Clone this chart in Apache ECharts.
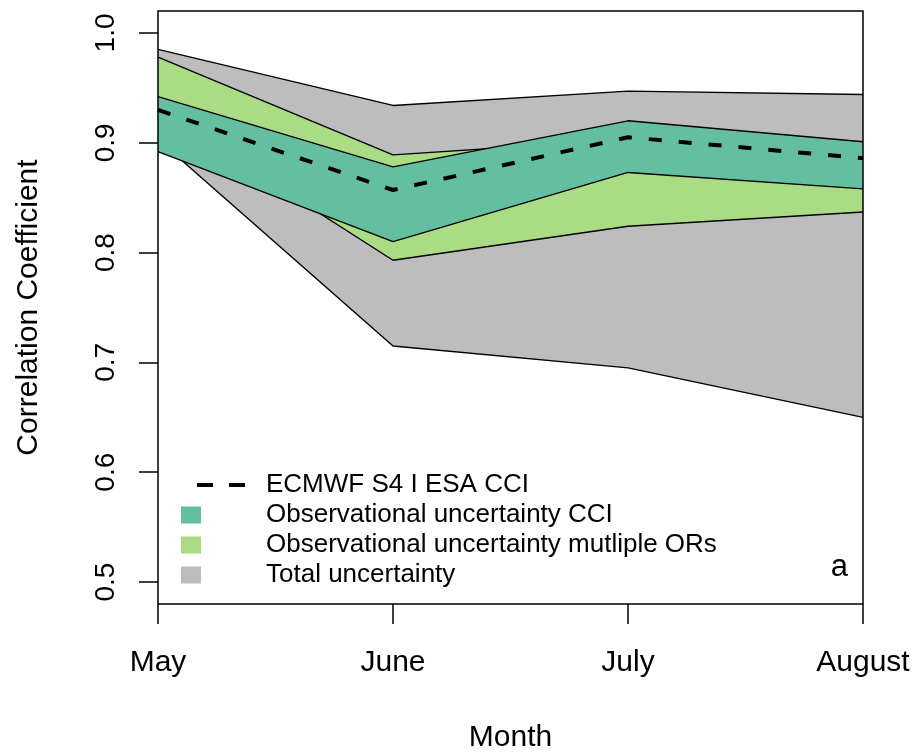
<!DOCTYPE html>
<html>
<head>
<meta charset="utf-8">
<script src="https://cdn.jsdelivr.net/npm/echarts@6/dist/echarts.min.js"></script>
<style>
html,body{margin:0;padding:0;background:#fff;}
#chart{width:915px;height:752px;}
</style>
</head>
<body>
<div id="chart"></div>
<script>
// ---- data ----
const months = ['May', 'June', 'July', 'August'];
const yTicks = [0.5, 0.6, 0.7, 0.8, 0.9, 1.0];
const ensembleCorr = [0.930, 0.857, 0.905, 0.886];      // ECMWF S4 I ESA CCI
const cciUpper = [0.942, 0.878, 0.920, 0.901];          // Observational uncertainty CCI
const cciLower = [0.892, 0.810, 0.873, 0.858];
const orsUpper = [0.978, 0.889, 0.903, 0.888];          // Observational uncertainty multiple ORs
const orsLower = [0.930, 0.793, 0.824, 0.837];
const totalUpper = [0.985, 0.934, 0.947, 0.944];        // Total uncertainty
const totalLower = [0.903, 0.715, 0.695, 0.650];

const names = {
  ens: 'ECMWF S4 I ESA CCI',
  cci: 'Observational uncertainty CCI',
  ors: 'Observational uncertainty mutliple ORs',
  total: 'Total uncertainty'
};
const colors = { cci: '#64BFA0', ors: '#A9DC84', total: '#BDBDBD' };
const FONT = '"Liberation Sans", Arial, Helvetica, sans-serif';

function bandSeries(key, upper, lower, z) {
  const width = upper.map((u, i) => +(u - lower[i]).toFixed(4));
  return [
    { name: key + '_base', type: 'line', stack: key, data: lower, symbol: 'none', silent: true, z: z,
      lineStyle: { width: 0, opacity: 0 } },
    { name: names[key], type: 'line', stack: key, data: width, symbol: 'none', silent: true, z: z,
      lineStyle: { color: '#000', width: 1.4 },
      itemStyle: { color: colors[key] },
      areaStyle: { color: colors[key], opacity: 1 } },
    { name: key + '_low', type: 'line', data: lower, symbol: 'none', silent: true, z: z,
      lineStyle: { color: '#000', width: 1.4 } }
  ];
}

const chart = echarts.init(document.getElementById('chart'), null, { renderer: 'canvas' });
chart.setOption({
  animation: false,
  backgroundColor: '#fff',
  textStyle: { fontFamily: FONT, color: '#000' },
  grid: { left: 158, top: 11, right: 52, bottom: 148, show: true, z: 10,
          containLabel: false, outerBoundsMode: 'none',
          borderColor: '#000', borderWidth: 1.5, backgroundColor: 'transparent' },
  title: { text: 'a', right: 67, top: 552, padding: 0,
           textStyle: { fontSize: 31, fontWeight: 'normal', color: '#000', fontFamily: FONT } },
  legend: [
    { data: [{ name: names.ens, icon: 'path://M0 0H16V4H0ZM32 0H48V4H32Z', itemStyle: { color: '#000' } }],
      left: 197, top: 470, padding: 0, itemWidth: 48, itemHeight: 4, selectedMode: false,
      textStyle: { fontSize: 26, lineHeight: 30, color: '#000', fontFamily: FONT, padding: [0, 0, 0, 16] } },
    { data: [
        { name: names.cci, icon: 'rect', itemStyle: { color: colors.cci, borderWidth: 0 } },
        { name: names.ors, icon: 'rect', itemStyle: { color: colors.ors, borderWidth: 0 } },
        { name: names.total, icon: 'rect', itemStyle: { color: colors.total, borderWidth: 0 } }
      ],
      orient: 'vertical', left: 181, top: 500, padding: 0, itemGap: 0,
      itemWidth: 20, itemHeight: 17, selectedMode: false,
      itemStyle: { borderWidth: 0 },
      textStyle: { fontSize: 26, lineHeight: 30, color: '#000', fontFamily: FONT, padding: [0, 0, 0, 60] } }
  ],
  xAxis: {
    type: 'category', data: months, boundaryGap: false,
    name: 'Month', nameLocation: 'middle', nameGap: 119,
    nameTextStyle: { fontSize: 30, color: '#000', fontFamily: FONT },
    axisLine: { show: false },
    axisTick: { show: true, inside: false, length: 20, lineStyle: { color: '#000', width: 1.5 } },
    axisLabel: { fontSize: 30, color: '#000', margin: 44, interval: 0, fontFamily: FONT,
                 showMinLabel: true, showMaxLabel: true },
    splitLine: { show: false }
  },
  yAxis: {
    type: 'value', min: 0.48, max: 1.02,
    name: 'Correlation Coefficient', nameLocation: 'middle', nameGap: 114, nameRotate: 90,
    nameTextStyle: { fontSize: 30, color: '#000', fontFamily: FONT },
    axisLine: { show: false },
    axisTick: { show: true, length: 19, customValues: yTicks, lineStyle: { color: '#000', width: 1.5 } },
    axisLabel: { fontSize: 28, color: '#000', rotate: 90, margin: 38, fontFamily: FONT,
                 customValues: yTicks, formatter: v => v.toFixed(1) },
    splitLine: { show: false }
  },
  series: [
    ...bandSeries('total', totalUpper, totalLower, 2),
    ...bandSeries('ors', orsUpper, orsLower, 3),
    ...bandSeries('cci', cciUpper, cciLower, 4),
    { name: names.ens, type: 'line', data: ensembleCorr, symbol: 'none', silent: true, z: 5,
      itemStyle: { color: '#000' },
      lineStyle: { color: '#000', width: 4, type: [13, 17], cap: 'butt' } }
  ]
});
</script>
</body>
</html>
